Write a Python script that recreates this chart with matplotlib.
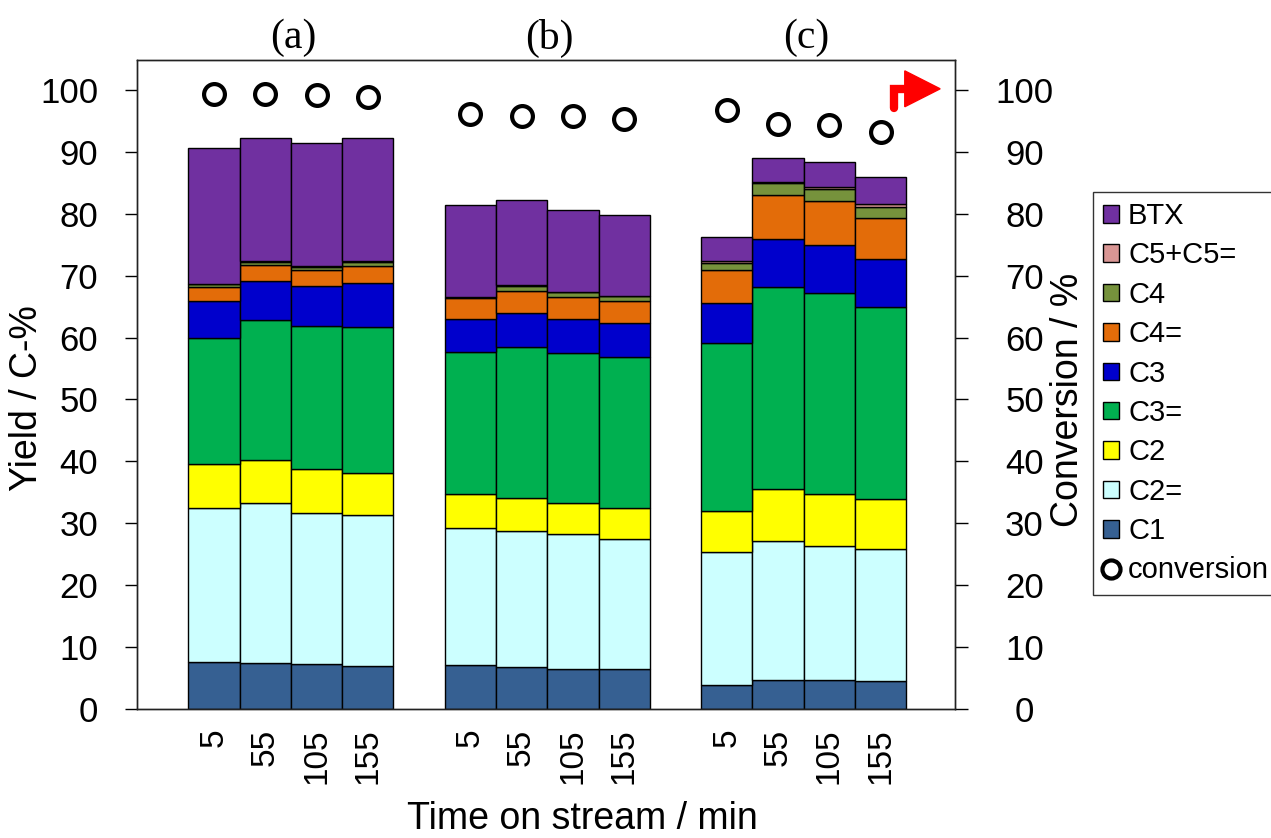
import matplotlib
matplotlib.use("Agg")
import matplotlib.pyplot as plt
from matplotlib.patches import Patch
from matplotlib.lines import Line2D
import numpy as np

plt.rcParams['font.family'] = ['Liberation Sans', 'DejaVu Sans']

groups = ['(a)', '(b)', '(c)']
tos_labels = ['5', '55', '105', '155']

C1     = [7.6, 7.4, 7.2, 6.9,  7.1, 6.7, 6.5, 6.5,  3.9, 4.7, 4.7, 4.5]
C2e_t  = [32.5, 33.2, 31.7, 31.4, 29.2, 28.7, 28.2, 27.4, 25.3, 27.1, 26.4, 25.8]
C2_t   = [39.6, 40.2, 38.8, 38.2, 34.7, 34.1, 33.3, 32.4, 32.0, 35.5, 34.7, 33.9]
C3e_t  = [59.9, 62.8, 61.8, 61.7, 57.6, 58.5, 57.5, 56.8, 59.2, 68.1, 67.2, 65.0]
C3_t   = [65.9, 69.1, 68.4, 68.8, 63.0, 64.0, 63.0, 62.3, 65.6, 75.9, 75.0, 72.7]
C4e_t  = [68.2, 71.8, 70.9, 71.5, 66.4, 67.6, 66.6, 65.9, 70.9, 83.1, 82.1, 79.3]
C4_t   = [68.6, 72.2, 71.4, 72.2, 66.5, 68.3, 67.3, 66.7, 72.1, 84.9, 84.0, 81.1]
C5_t   = [68.7, 72.4, 71.6, 72.4, 66.6, 68.5, 67.4, 66.8, 72.4, 85.1, 84.3, 81.6]
BTX_t  = [90.6, 92.3, 91.5, 92.2, 81.5, 82.2, 80.6, 79.8, 76.3, 89.1, 88.3, 86.0]
conversion = [99.35, 99.3, 99.2, 98.85, 96.2, 95.8, 95.8, 95.4, 96.8, 94.5, 94.4, 93.3]

series_names = ['C1', 'C2=', 'C2', 'C3=', 'C3', 'C4=', 'C4', 'C5+C5=', 'BTX']
series_colors = ['#366092', '#CCFFFF', '#FFFF00', '#00B050', '#0000CC',
                 '#E36C09', '#76923C', '#D99694', '#7030A0']
tops = [C1, C2e_t, C2_t, C3e_t, C3_t, C4e_t, C4_t, C5_t, BTX_t]

fig = plt.figure(figsize=(12.71, 8.38), dpi=100)
ax = fig.add_axes([0.1078, 0.154, 0.6436, 0.774])

ng = len(groups)
nb = len(tos_labels)
pos = np.array([g * (nb + 1) + 1 + i for g in range(ng) for i in range(nb)], dtype=float)

prev = np.zeros(len(pos))
for name, col, top in zip(series_names, series_colors, tops):
    top = np.array(top)
    h = top - prev
    ax.bar(pos, h, bottom=prev, width=1.0, color=col, edgecolor='black',
           linewidth=1.0, zorder=2)
    prev = top

ax.plot(pos, conversion, linestyle='none', marker='o', markersize=15,
        markerfacecolor='white', markeredgecolor='black', markeredgewidth=3,
        zorder=4, clip_on=False)

ax.set_xlim(-0.5, 15.45)
ax.set_ylim(0, 104.8)
ax.set_yticks(np.arange(0, 101, 10))
ax.tick_params(axis='y', labelsize=25, length=9, width=1.0, direction='out', pad=19)
ax.set_xticks(pos)
ax.set_xticklabels(tos_labels * ng, rotation=90, fontsize=24)
ax.tick_params(axis='x', length=0, pad=14)
for s in ax.spines.values():
    s.set_linewidth(1.0)
    s.set_color('#222222')

ax.set_ylabel('Yield / C-%', fontsize=27)
ax.yaxis.set_label_coords(-0.112, 0.479)
ax.set_xlabel('Time on stream / min', fontsize=27)
ax.xaxis.set_label_coords(0.544, -0.142)

ax2 = ax.twinx()
ax2.set_ylim(ax.get_ylim())
ax2.set_yticks(np.arange(0, 101, 10))
ax2.tick_params(axis='y', labelsize=25, length=9, width=1.0, direction='out', pad=41)
for lab in ax2.get_yticklabels():
    lab.set_horizontalalignment('center')
ax2.set_ylabel('Conversion / %', fontsize=27)
ax2.yaxis.set_label_coords(1.116, 0.476)
for s in ax2.spines.values():
    s.set_linewidth(1.0)
    s.set_color('#222222')

# group titles
for g, name in enumerate(groups):
    cx = pos[g * nb:(g + 1) * nb].mean()
    ax.text(cx + 0.05, 108.4, name, ha='center', va='center', fontsize=30,
            family='Liberation Serif', clip_on=False)

# red arrow pointing to the right axis
ax.plot([14.26, 14.26, 14.6], [97.1, 100.1, 100.1], color='red', lw=6,
        solid_joinstyle='miter', solid_capstyle='round', clip_on=False, zorder=5)
ax.fill([14.47, 14.47, 15.16], [103.1, 97.3, 100.2], color='red',
        clip_on=False, zorder=5)

handles = [Patch(facecolor=c, edgecolor='black', linewidth=1.0, label=n)
           for n, c in zip(series_names[::-1], series_colors[::-1])]
handles.append(Line2D([], [], linestyle='none', marker='o', markersize=13,
                      markerfacecolor='white', markeredgecolor='black',
                      markeredgewidth=3, label='conversion'))
leg = fig.legend(handles=handles, loc='upper left', bbox_to_anchor=(0.86, 0.771),
                 bbox_transform=fig.transFigure, fontsize=21, frameon=True,
                 fancybox=False, edgecolor='black', handlelength=0.55,
                 handleheight=0.55, handletextpad=0.3, labelspacing=0.39,
                 borderpad=0.35, borderaxespad=0)
leg.get_frame().set_linewidth(1.0)

fig.savefig('out.png', dpi=100)
